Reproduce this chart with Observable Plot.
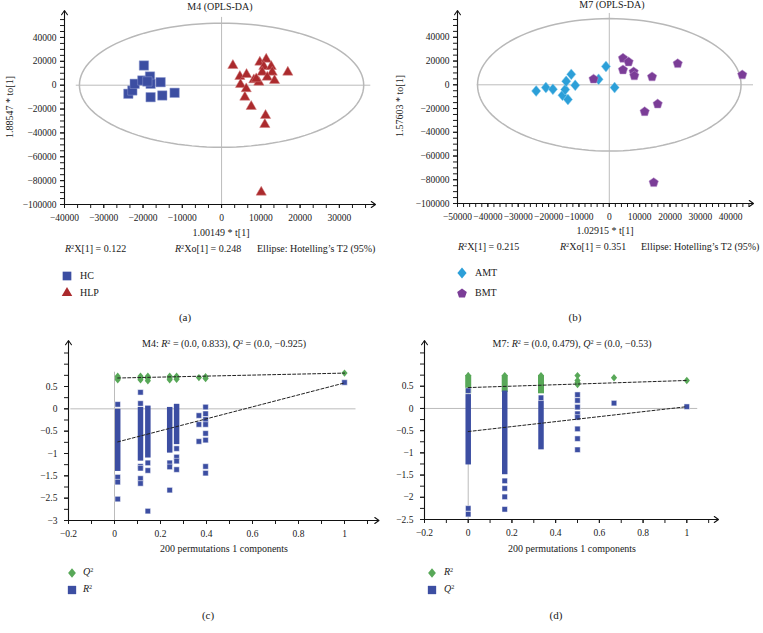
<!DOCTYPE html>
<html><head><meta charset="utf-8">
<script src="https://cdn.jsdelivr.net/npm/d3@7"></script>
<script src="https://cdn.jsdelivr.net/npm/@observablehq/plot@0.6"></script>
<style>
html,body{margin:0;padding:0;background:#fff;}
#fig{position:relative;width:763px;height:633px;overflow:hidden;font-family:"Liberation Serif","Times New Roman",serif;color:#1a1a1a;background:#fff;}
#fig .t{position:absolute;white-space:nowrap;line-height:1;z-index:5;}
#fig sup{font-size:0.62em;vertical-align:0.5em;line-height:0;}
#fig svg{position:absolute;}
</style></head><body><div id="fig"></div>
<script>
// ---------------- (a) M4 OPLS-DA scores ----------------
const hcX  = [-19770,-23740,-22720,-22130,-20180,-18230,-18070,-15520,-18070,-15090,-11960,-18900];
const hcY  = [16500,-7200,-4440,1170,3940,7290,1170,2510,-10060,-8630,-6370,3100];
const hlpX = [2880,4660,6360,4830,6280,5930,7550,8220,9490,9750,11370,10760,10350,12650,12900,11630,13490,16870,11200,11020,10100,8830];
const hlpY = [16500,7290,8970,590,-3020,-10060,-17850,4530,2510,19270,21790,15670,10890,15670,10890,6700,3940,10890,-25390,-32930,-89670,5360];
const aEllipse = [36200, 52000];          // Hotelling T2 semi-axes (t, to)
const aXDomain = [-40000, 39200];
const aYDomain = [-100000, 62600];
const aXTicks = [-40000,-30000,-20000,-10000,0,10000,20000,30000];
const aYTicks = [-100000,-80000,-60000,-40000,-20000,0,20000,40000];
const aXMinor = d3.range(-40000, 37000, 10000/3);
const aYMinor = d3.range(-100000, 56000, 5000);
const aHLine = [-37000, 38000];
const aVLine = [-100000, 56800];

// ---------------- (b) M7 OPLS-DA scores ----------------
const amtX = [-24090,-20890,-18580,-15410,-13630,-14520,-14190,-12540,-11220,-3520,-1100,1750];
const amtY = [-5200,-2350,-3770,-8800,-12400,-4020,2930,8800,-420,4610,15500,-2350];
const bmtX = [-5180,4510,6360,4510,8020,8250,14090,22540,43800,15940,11650,14630];
const bmtY = [5200,22790,19690,12990,11310,7960,7120,18270,8800,-15750,-22210,-81960];
const bEllipse = [43400, 55800];
const bXDomain = [-50000, 47500];
const bYDomain = [-100000, 62600];
const bXTicks = [-50000,-40000,-30000,-20000,-10000,0,10000,20000,30000,40000];
const bYTicks = aYTicks;
const bXMinor = d3.range(-50000, 46001, 2000);
const bYMinor = d3.range(-100000, 56000, 5000);
const bHLine = [-43500, 47500];
const bVLine = [-100000, 60100];

// ---------------- (c) M4 permutation test ----------------
const cQ2Pts = [[0.014,0.65],[0.014,0.69],[0.014,0.73],[0.113,0.65],[0.113,0.69],[0.113,0.73],
  [0.145,0.63],[0.145,0.68],[0.145,0.73],[0.24,0.65],[0.24,0.69],[0.24,0.73],[0.27,0.66],[0.27,0.70],[0.27,0.73],
  [0.367,0.70],[0.396,0.68],[0.396,0.72],[1,0.80]];
const cR2Runs = [[0.014,-1.34,-0.07],[0.113,-1.11,-0.03],[0.145,-1.04,0.0],[0.24,-0.93,-0.03],[0.27,-0.74,0.04]];
const cR2Pts = [[0.014,0.10],[0.014,-1.53],[0.014,-1.64],[0.014,-2.02],
  [0.113,0.37],[0.113,0.12],[0.113,-1.29],[0.113,-1.33],[0.113,-1.56],[0.113,-1.67],
  [0.145,-1.21],[0.145,-1.38],[0.145,-2.29],
  [0.24,-1.21],[0.24,-1.30],[0.24,-1.82],
  [0.27,-0.89],[0.27,-1.08],[0.27,-1.17],[0.27,-1.36],
  [0.367,-0.15],[0.367,-0.35],[0.367,-0.73],
  [0.396,0.04],[0.396,-0.11],[0.396,-0.24],[0.396,-0.35],[0.396,-0.55],[0.396,-0.70],[0.396,-1.29],[0.396,-1.44],
  [1,0.59]];
const cQ2Fit = [[0.014,0.69],[1,0.80]];
const cR2Fit = [[0.014,-0.74],[1,0.58]];
const cXDomain = [-0.2, 1.15];
const cYDomain = [-2.5, 1.53];
const cXTicks = [-0.2,0,0.2,0.4,0.6,0.8,1];
const cXMinor = [-0.2,-0.1,0,0.1,0.2,0.3,0.4,0.5,0.6,0.7,0.8,0.9,1,1.1];
const cYTicks = [0.5,0,-0.5,-1,-1.5,-2,-2.5];
const cYLabels = ["0.5","0","\u22120.5","\u22121","\u22121.5","\u22122.5","\u22123"];
const cYMinor = [-2.5,-2.25,-2,-1.75,-1.5,-1.25,-1,-0.75,-0.5,-0.25,0,0.25,0.5,0.75,1,1.25];
const cHLine = [-0.19, 1.05];
const cVLine = [-2.5, 0.82];

// ---------------- (d) M7 permutation test ----------------
const dR2Runs = [[0,0.33,0.74],[0.167,0.36,0.74],[0.333,0.33,0.74]];
const dR2Pts = [[0,0.74],[0.167,0.74],[0.333,0.74],[0.5,0.74],[0.5,0.63],[0.5,0.58],[0.5,0.54],[0.667,0.69],[1,0.63]];
const dQ2Runs = [[0,-1.21,0.25],[0.167,-1.43,0.33],[0.333,-0.87,0.11]];
const dQ2Pts = [[0,0.40],[0,-2.25],[0,-2.38],[0.167,-1.63],[0.167,-1.80],[0.167,-1.99],[0.167,-2.27],[0.333,0.24],
  [0.5,0.31],[0.5,0.18],[0.5,0.03],[0.5,-0.12],[0.5,-0.20],[0.5,-0.46],[0.5,-0.68],[0.5,-0.93],[0.667,0.12],[1,0.04]];
const dR2Fit = [[0,0.47],[1,0.63]];
const dQ2Fit = [[0,-0.52],[1,0.04]];
const dXDomain = [-0.2, 1.145];
const dYDomain = [-2.5, 1.53];
const dXTicks = cXTicks;
const dXMinor = cXMinor;
const dYTicks = [0.5,0,-0.5,-1,-1.5,-2,-2.5];
const dYLabels = ["0.5","0","\u22120.5","\u22121","\u22121.5","\u22122","\u22122.5"];
const dYMinor = cYMinor;
const dHLine = [-0.2, 1.05];
const dVLine = [-2.5, 0.81];

// ---------------- styling ----------------
const C_BLUE = "#3c4ea2", C_RED = "#ab2a2d", C_AMT = "#2c9fd8", C_BMT = "#7b3d97", C_GREEN = "#58a858";
const FONT = '"Liberation Serif","Times New Roman",serif';

const symPentagon = {draw(ctx, size){
  const r = Math.sqrt(size/(2.5*Math.sin(2*Math.PI/5)));
  for (let i=0;i<5;i++){ const a=-Math.PI/2+i*2*Math.PI/5; const px=r*Math.cos(a), py=r*Math.sin(a)+r*0.1; i?ctx.lineTo(px,py):ctx.moveTo(px,py);} ctx.closePath(); }};
const symDiamond = {draw(ctx, size){
  const h=Math.sqrt(size/0.42), w=0.84*h;
  ctx.moveTo(0,-h/2); ctx.lineTo(w/2,0); ctx.lineTo(0,h/2); ctx.lineTo(-w/2,0); ctx.closePath(); }};

const fmt = d => d < 0 ? "\u2212" + String(-d) : String(d);
const blank = () => "";
const fig = document.getElementById("fig");

function mount(node, left, top){ node.style.left = left+"px"; node.style.top = top+"px"; fig.appendChild(node); }
function txt(html, x, y, o = {}) {
  const s = document.createElement("div");
  s.className = "t"; s.innerHTML = html;
  s.style.left = x+"px"; s.style.top = y+"px"; s.style.fontSize = (o.size || 10)+"px";
  const ax = o.anchor === "start" ? "0" : o.anchor === "end" ? "-100%" : "-50%";
  s.style.transform = `translate(${ax},-50%)` + (o.rotate ? ` rotate(${o.rotate}deg)` : "");
  fig.appendChild(s);
}
function swatch(sym, r, color, x, y){
  const p = d3.path(); sym.draw(p, Math.PI*r*r);
  const s = 2*Math.ceil(r*1.8)+2;
  const svg = d3.create("svg").attr("width", s).attr("height", s).attr("viewBox", `${-s/2} ${-s/2} ${s} ${s}`)
    .style("left", (x-s/2)+"px").style("top", (y-s/2)+"px");
  svg.append("path").attr("d", p.toString()).attr("fill", color);
  fig.appendChild(svg.node());
}
function ellipsePts([rx, ry]){
  return d3.range(0, 360, 3).map(a => ({x: rx*Math.cos(a*Math.PI/180), y: ry*Math.sin(a*Math.PI/180)}));
}
function axisMarks(xDom, yDom, xTicks, xMinor, yTicks, yMinor, xFmt, yFmt, xPad, yPad){
  const axes = [{x1:xDom[0], y1:yDom[0], x2:xDom[1], y2:yDom[0]}, {x1:xDom[0], y1:yDom[0], x2:xDom[0], y2:yDom[1]}];
  return [
    Plot.axisX(xMinor, {tickSize:4, tickFormat: blank, label:null}),
    Plot.axisX(xTicks, {tickSize:4, tickPadding:xPad, tickFormat: xFmt, label:null}),
    Plot.axisY(yMinor, {tickSize:4, tickFormat: blank, label:null}),
    Plot.axisY(yTicks, {tickSize:4, tickPadding:yPad, tickFormat: yFmt, label:null}),
    Plot.arrow(axes, {x1:"x1", y1:"y1", x2:"x2", y2:"y2", stroke:"#111", strokeWidth:1.1, headLength:7, headAngle:70})
  ];
}
function makePlot(o){
  return Plot.plot({
    width:o.width, height:o.height,
    marginLeft:o.m[0], marginRight:o.m[1], marginTop:o.m[2], marginBottom:o.m[3],
    x:{domain:o.xDom, label:null}, y:{domain:o.yDom, label:null},
    style:{fontFamily:FONT, fontSize:"9.5px", color:"#1a1a1a", background:"transparent", overflow:"visible"},
    marks:o.marks
  });
}

// ---- panel (a) ----
mount(makePlot({width:390, height:240, m:[64,15,10,36], xDom:aXDomain, yDom:aYDomain, marks:[
  Plot.ruleY([0], {x1:aHLine[0], x2:aHLine[1], stroke:"#bcbcbc"}),
  Plot.ruleX([0], {y1:aVLine[0], y2:aVLine[1], stroke:"#bcbcbc"}),
  Plot.line(ellipsePts(aEllipse), {x:"x", y:"y", stroke:"#b8b8b8", curve:"linear-closed"}),
  ...axisMarks(aXDomain, aYDomain, aXTicks, aXMinor, aYTicks, aYMinor, fmt, fmt, 6, 4),
  Plot.dot(d3.zip(hcX, hcY), {x:d=>d[0], y:d=>d[1], symbol:"square", r:5.3, fill:C_BLUE, stroke:"#8e9bd0", strokeWidth:0.5}),
  Plot.dot(d3.zip(hlpX, hlpY), {x:d=>d[0], y:d=>d[1], symbol:"triangle", r:3.8, fill:C_RED, stroke:"#d07a7a", strokeWidth:0.5})
]}), 0, 0);

// ---- panel (b) ----
mount(makePlot({width:378, height:240, m:[72,10,10,37], xDom:bXDomain, yDom:bYDomain, marks:[
  Plot.ruleY([0], {x1:bHLine[0], x2:bHLine[1], stroke:"#bcbcbc"}),
  Plot.ruleX([0], {y1:bVLine[0], y2:bVLine[1], stroke:"#bcbcbc"}),
  Plot.line(ellipsePts(bEllipse), {x:"x", y:"y", stroke:"#b8b8b8", curve:"linear-closed"}),
  ...axisMarks(bXDomain, bYDomain, bXTicks, bXMinor, bYTicks, bYMinor, fmt, fmt, 6, 4),
  Plot.dot(d3.zip(amtX, amtY), {x:d=>d[0], y:d=>d[1], symbol:symDiamond, r:4.0, fill:C_AMT, stroke:"#8fd0ef", strokeWidth:0.5}),
  Plot.dot(d3.zip(bmtX, bmtY), {x:d=>d[0], y:d=>d[1], symbol:symPentagon, r:4.3, fill:C_BMT, stroke:"#b58cc8", strokeWidth:0.5})
]}), 385, 0);

// ---- permutation panels ----
function permMarks(hl, vl, greenRuns, greenPts, blueRuns, bluePts, greenFit, blueFit){
  return [
    Plot.ruleY([0], {x1:hl[0], x2:hl[1], stroke:"#bcbcbc"}),
    Plot.ruleX([0], {y1:vl[0], y2:vl[1], stroke:"#bcbcbc"}),
    Plot.ruleX(greenRuns, {x:d=>d[0], y1:d=>d[1], y2:d=>d[2], stroke:C_GREEN, strokeWidth:6, strokeLinecap:"butt"}),
    Plot.dot(greenPts, {x:d=>d[0], y:d=>d[1], symbol:symDiamond, r:2.7, fill:C_GREEN}),
    Plot.ruleX(blueRuns, {x:d=>d[0], y1:d=>d[1], y2:d=>d[2], stroke:C_BLUE, strokeWidth:5.5, strokeLinecap:"square"}),
    Plot.dot(bluePts, {x:d=>d[0], y:d=>d[1], symbol:"square", r:3.1, fill:C_BLUE, stroke:"white", strokeWidth:0.5}),
    Plot.line(greenFit, {x:d=>d[0], y:d=>d[1], stroke:"#222", strokeWidth:1, strokeDasharray:"3,2"}),
    Plot.line(blueFit, {x:d=>d[0], y:d=>d[1], stroke:"#222", strokeWidth:1, strokeDasharray:"3,2"})
  ];
}
const cLabelOf = new Map(cYTicks.map((v,i)=>[v, cYLabels[i]]));
const dLabelOf = new Map(dYTicks.map((v,i)=>[v, dYLabels[i]]));

mount(makePlot({width:390, height:220, m:[68,11.5,10,30], xDom:cXDomain, yDom:cYDomain, marks:[
  ...permMarks(cHLine, cVLine, [], cQ2Pts, cR2Runs, cR2Pts, cQ2Fit, cR2Fit),
  ...axisMarks(cXDomain, cYDomain, cXTicks, cXMinor, cYTicks, cYMinor, fmt, d=>cLabelOf.get(d), 6, 7)
]}), 0, 330);

mount(makePlot({width:378, height:220, m:[39,45,10,31], xDom:dXDomain, yDom:dYDomain, marks:[
  ...permMarks(dHLine, dVLine, dR2Runs, dR2Pts, dQ2Runs, dQ2Pts, dR2Fit, dQ2Fit),
  ...axisMarks(dXDomain, dYDomain, dXTicks, dXMinor, dYTicks, dYMinor, fmt, d=>dLabelOf.get(d), 6, 7)
]}), 385, 330);

// ---- texts ----
const R2 = "<i>R</i><sup>2</sup>", Q2 = "<i>Q</i><sup>2</sup>";
txt("M4 (OPLS-DA)", 220, 7);
txt("1.88547 * to[1]", 10, 107, {rotate:-90});
txt("1.00149 * t[1]", 221, 233);
txt(R2+"X[1] = 0.122", 65, 249, {anchor:"start"});
txt(R2+"Xo[1] = 0.248", 175, 249, {anchor:"start"});
txt("Ellipse: Hotelling\u2019s T2 (95%)", 257, 249, {anchor:"start"});
swatch(d3.symbolSquare, 4.9, C_BLUE, 67, 276); txt("HC", 80, 276, {anchor:"start"});
swatch(d3.symbolTriangle, 3.9, C_RED, 67, 293); txt("HLP", 80, 293, {anchor:"start"});
txt("(a)", 185, 317, {size:11});

txt("M7 (OPLS-DA)", 612, 5);
txt("1.57603 * to[1]", 400, 106, {rotate:-90});
txt("1.02915 * t[1]", 605, 231);
txt(R2+"X[1] = 0.215", 458, 247, {anchor:"start"});
txt(R2+"Xo[1] = 0.351", 560, 247, {anchor:"start"});
txt("Ellipse: Hotelling\u2019s T2 (95%)", 641, 247, {anchor:"start"});
swatch(symDiamond, 4.0, C_AMT, 462, 273); txt("AMT", 475, 273, {anchor:"start"});
swatch(symPentagon, 4.4, C_BMT, 462, 293); txt("BMT", 475, 293, {anchor:"start"});
txt("(b)", 575, 317, {size:11});

txt("M4: "+R2+" = (0.0, 0.833), "+Q2+" = (0.0, \u22120.925)", 224, 344);
txt("200 permutations 1 components", 224, 549);
swatch(symDiamond, 3.4, C_GREEN, 72, 573); txt(Q2, 83, 572, {anchor:"start"});
swatch(d3.symbolSquare, 4.7, C_BLUE, 72, 590); txt(R2, 83, 589, {anchor:"start"});
txt("(c)", 208, 615, {size:11});

txt("M7: "+R2+" = (0.0, 0.479), "+Q2+" = (0.0, \u22120.53)", 572, 344);
txt("200 permutations 1 components", 572, 549);
swatch(symDiamond, 3.4, C_GREEN, 432, 573); txt(R2, 444, 572, {anchor:"start"});
swatch(d3.symbolSquare, 4.7, C_BLUE, 432, 590); txt(Q2, 444, 589, {anchor:"start"});
txt("(d)", 556, 615, {size:11});
</script></body></html>
